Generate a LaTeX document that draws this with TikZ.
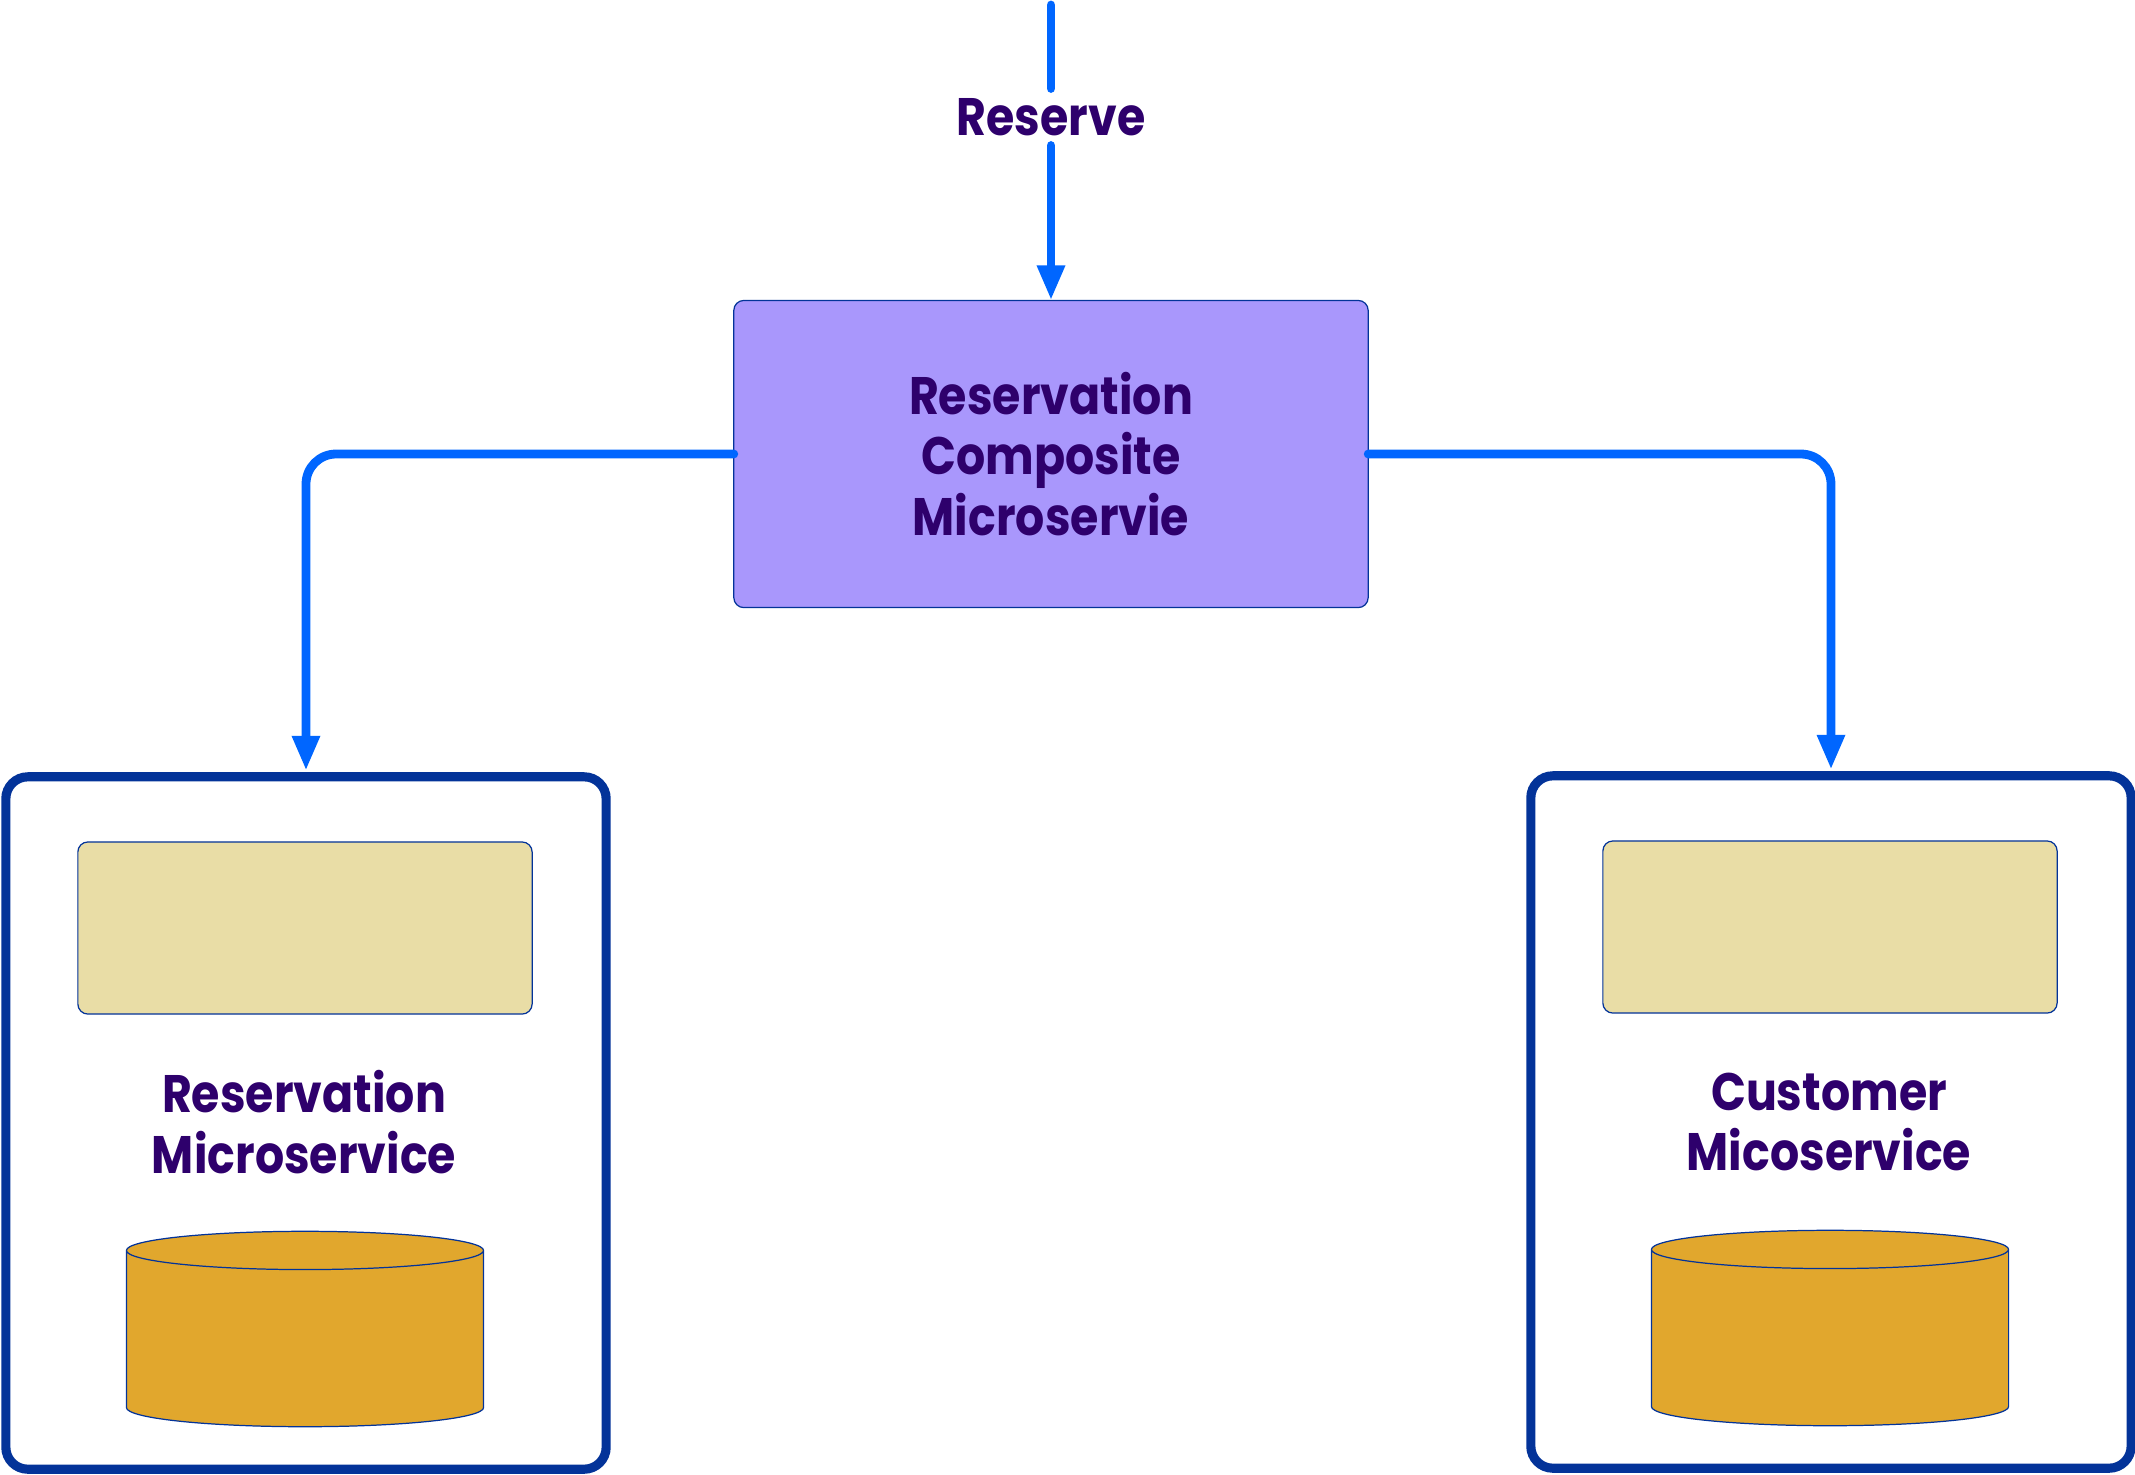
\documentclass[tikz,border=0pt]{standalone}
\usepackage{fontspec}
\setmainfont{Poppins}[FakeStretch=0.87]
\usetikzlibrary{positioning,arrows.meta,shapes.geometric}
\definecolor{linkcolor}{RGB}{0,102,255}
\definecolor{edgecolor}{RGB}{3,51,153}
\definecolor{labelcolor}{RGB}{46,0,108}
\definecolor{compositecolor}{RGB}{169,151,252}
\definecolor{apicolor}{RGB}{233,221,166}
\definecolor{dbcolor}{RGB}{225,167,45}

\begin{document}
\begin{tikzpicture}[
  x=0.01cm,y=-0.01cm,
  every node/.style={align=center,font=\bfseries\fontsize{15}{17.3}\selectfont,text=labelcolor,inner sep=0pt,outer sep=0pt},
  link/.style={draw=linkcolor,line width=2.5pt,line cap=round},
  linkarrow/.style={link,rounded corners=0.3cm,-{Triangle[length=0.35cm,width=0.26cm]}},
  servicebox/.style={draw=edgecolor,line width=2.6pt,rounded corners=0.22cm,minimum width=6.0cm,minimum height=6.92cm},
  apibox/.style={draw=edgecolor,line width=0.35pt,fill=apicolor,rounded corners=0.1cm,minimum width=4.54cm,minimum height=1.72cm},
  dbdrum/.style={cylinder,shape border rotate=90,anchor=shape center,draw=edgecolor,line width=0.35pt,fill=dbcolor,inner sep=0.765cm,shape aspect=0.25,minimum width=3.57cm,minimum height=1.87cm}
]
  \useasboundingbox (0,0) rectangle (2135,1475);
  % Entry point and the composite service
  \coordinate (entry) at (1051,5);
  \node[minimum height=0.57cm] (reserve) at (1051,117) {Reserve};
  \node[draw=edgecolor,line width=0.35pt,fill=compositecolor,rounded corners=0.1cm,minimum width=6.34cm,minimum height=3.07cm] (composite) at (1051,454) {Reservation\\Composite\\Microservie};
  % Reservation side
  \node[servicebox] (reservation) at (306,1123) {};
  \node[apibox] (reservationapi) at (305,928) {};
  \node (reservationlabel) at (304,1122) {Reservation\\Microservice};
  \node[dbdrum] (reservationdb) at (305,1329) {};
  % Customer side
  \node[servicebox] (customer) at (1831,1122) {};
  \node[apibox] (customerapi) at (1830,927) {};
  \node (customerlabel) at (1829,1122) {Customer\\Micoservice};
  \node[dbdrum] (customerdb) at (1830,1328) {};
  % Connectors
  \draw[link] (entry)--(reserve.north);
  \draw[linkarrow] (reserve.south)--(composite.north);
  \draw[linkarrow,shorten >=0.06cm] (composite.west)--(reservation.north |- composite.west)--(reservation.north);
  \draw[linkarrow,shorten >=0.06cm] (composite.east)--(customer.north |- composite.east)--(customer.north);
\end{tikzpicture}
\end{document}
